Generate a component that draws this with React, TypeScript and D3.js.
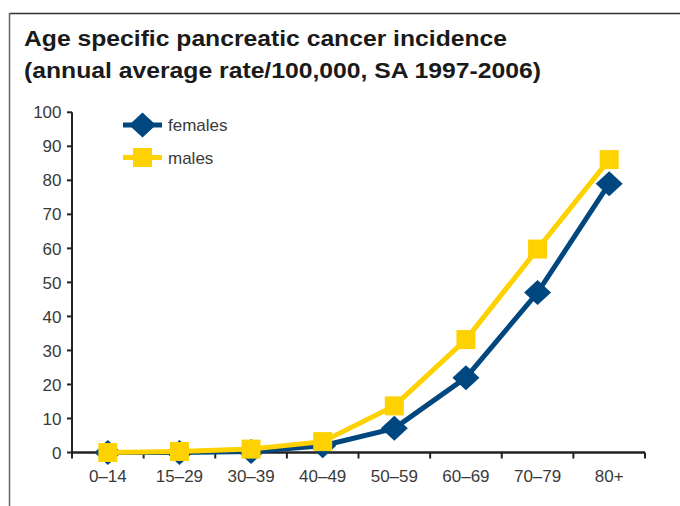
import React from "react";
import * as d3 from "d3";

const categories = ["0–14", "15–29", "30–39", "40–49", "50–59", "60–69", "70–79", "80+"];
const females = [0, 0, 0.3, 2, 7.1, 22, 47, 79];
const males = [0, 0.3, 1, 3.2, 13.7, 33.2, 59.8, 86.1];
const yTicks = [0, 10, 20, 30, 40, 50, 60, 70, 80, 90, 100];
const seriesNames = ["females", "males"];
const titleLines = ["Age specific pancreatic cancer incidence", "(annual average rate/100,000, SA 1997-2006)"];

const W = 680;
const H = 506;
const left = 72;
const right = 645;
const top = 112.3;
const bottom = 452.5;
const FEM = "#00467f";
const MAL = "#fdd200";
const FONT = "'Liberation Sans', Arial, Helvetica, sans-serif";
const LABEL = 17;

export default function App() {
  const x = d3.scaleBand<string>().domain(categories).range([left, right]).paddingInner(0).paddingOuter(0);
  const y = d3.scaleLinear().domain([0, 100]).range([bottom, top]);
  const cx = (c: string) => (x(c) as number) + x.bandwidth() / 2;
  const line = d3
    .line<number>()
    .x((_, i) => cx(categories[i]))
    .y((d) => y(d));

  const diamond = (px: number, py: number, k = 0) => (
    <path key={k} d={`M${px},${py - 12.5} L${px + 13.5},${py} L${px},${py + 12.5} L${px - 13.5},${py} Z`} fill={FEM} />
  );
  const square = (px: number, py: number, k = 0) => (
    <rect key={k} x={px - 9.5} y={py - 9.5} width={19} height={19} fill={MAL} />
  );

  const tickXs = categories.map((c) => x(c) as number).concat([right]);

  return (
    <svg width={W} height={H} style={{ position: "absolute", left: 0, top: 0, background: "#fff" }} fontFamily={FONT}>
      <rect x={0} y={0} width={W} height={H} fill="#fff" />
      {/* frame */}
      <line x1={9.5} y1={13.5} x2={W} y2={13.5} stroke="#333" strokeWidth={1.5} />
      <line x1={9.5} y1={13} x2={9.5} y2={H} stroke="#666" strokeWidth={1.5} />
      {/* title */}
      <text x={24} y={46} fontSize={22.5} fontWeight="bold" fill="#1a1a1a" textLength={483} lengthAdjust="spacingAndGlyphs">
        {titleLines[0]}
      </text>
      <text x={24} y={78} fontSize={22.5} fontWeight="bold" fill="#1a1a1a" textLength={517} lengthAdjust="spacingAndGlyphs">
        {titleLines[1]}
      </text>
      {/* y axis */}
      <line x1={left} y1={top} x2={left} y2={bottom} stroke="#222" strokeWidth={2} />
      {yTicks.map((t) => (
        <g key={t}>
          <line x1={left - 5} x2={left} y1={y(t)} y2={y(t)} stroke="#222" strokeWidth={2} />
          <text x={61.5} y={y(t)} dy="0.36em" textAnchor="end" fontSize={LABEL} fill="#3a3a3a">
            {t}
          </text>
        </g>
      ))}
      {/* x axis */}
      <line x1={left} y1={bottom} x2={right} y2={bottom} stroke="#222" strokeWidth={2.5} />
      {tickXs.map((tx, i) => (
        <line key={i} x1={tx} x2={tx} y1={bottom} y2={bottom + 6} stroke="#222" strokeWidth={2} />
      ))}
      {categories.map((c) => (
        <text key={c} x={cx(c)} y={482} textAnchor="middle" fontSize={LABEL} fill="#3a3a3a">
          {c}
        </text>
      ))}
      {/* series */}
      <path d={line(females) as string} fill="none" stroke={FEM} strokeWidth={5} />
      {females.map((v, i) => diamond(cx(categories[i]), y(v), i))}
      <path d={line(males) as string} fill="none" stroke={MAL} strokeWidth={5} />
      {males.map((v, i) => square(cx(categories[i]), y(v), i))}
      {/* legend */}
      <g>
        <line x1={123} x2={162} y1={125} y2={125} stroke={FEM} strokeWidth={5} />
        {diamond(142.5, 125)}
        <text x={168} y={125} dy="0.36em" fontSize={LABEL} fill="#3a3a3a">
          {seriesNames[0]}
        </text>
        <line x1={123} x2={162} y1={157.5} y2={157.5} stroke={MAL} strokeWidth={5} />
        {square(142.5, 157.5)}
        <text x={168} y={157.5} dy="0.36em" fontSize={LABEL} fill="#3a3a3a">
          {seriesNames[1]}
        </text>
      </g>
    </svg>
  );
}
